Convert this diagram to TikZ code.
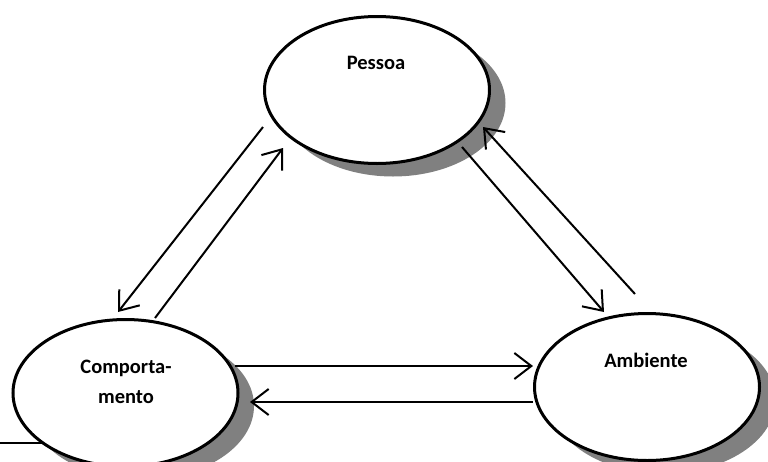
\documentclass[tikz,border=0pt]{standalone}
\usepackage{fontspec}
\setmainfont{Carlito}
\usetikzlibrary{shapes.geometric,arrows.meta,shadows}
\begin{document}
\begin{tikzpicture}[x=1pt,y=-1pt,
  bubble/.style={ellipse,draw=black,line width=3pt,fill=white,
    minimum width=225pt,minimum height=147pt,inner sep=0pt,
    drop shadow={shadow xshift=16pt,shadow yshift=-13pt,fill=black!50,opacity=1}},
  lbl/.style={font=\bfseries\fontsize{20.5}{30}\selectfont,anchor=base,align=center,inner sep=0pt},
  conn/.style={line width=2pt,-{Straight Barb[length=17pt,width=26pt,line width=2pt]}}]
\clip (0,0) rectangle (768,461);
\fill[white] (0,0) rectangle (768,461);
% free line at bottom left (behind Comportamento)
\coordinate (L0) at (0,443);
\coordinate (L1) at (125,443);
\draw[line width=2pt] (L0) -- (L1);
% ellipses
\node[bubble] (P) at (377,90) {};
\node[bubble] (C) at (125.5,393) {};
\node[bubble] (A) at (647,387) {};
% labels
\node[lbl] (Pt) at (376,69) {Pessoa};
\node[lbl] (At) at (646,367) {Ambiente};
\node[lbl] (Ct1) at (126,373) {Comporta-};
\node[lbl] (Ct2) at (126,403) {mento};
% connector end points
\coordinate (p1) at (263,127); \coordinate (c1) at (118,312);
\coordinate (c2) at (155,318); \coordinate (p2) at (283,148);
\coordinate (p3) at (462,147); \coordinate (a3) at (604,312);
\coordinate (a4) at (635,294); \coordinate (p4) at (483,127);
\coordinate (c5) at (235,366); \coordinate (a5) at (533,366);
\coordinate (a6) at (533,402); \coordinate (c6) at (250,402);
\draw[conn] (p1) -- (c1);
\draw[conn] (c2) -- (p2);
\draw[conn] (p3) -- (a3);
\draw[conn] (a4) -- (p4);
\draw[conn] (c5) -- (a5);
\draw[conn] (a6) -- (c6);
\end{tikzpicture}
\end{document}
